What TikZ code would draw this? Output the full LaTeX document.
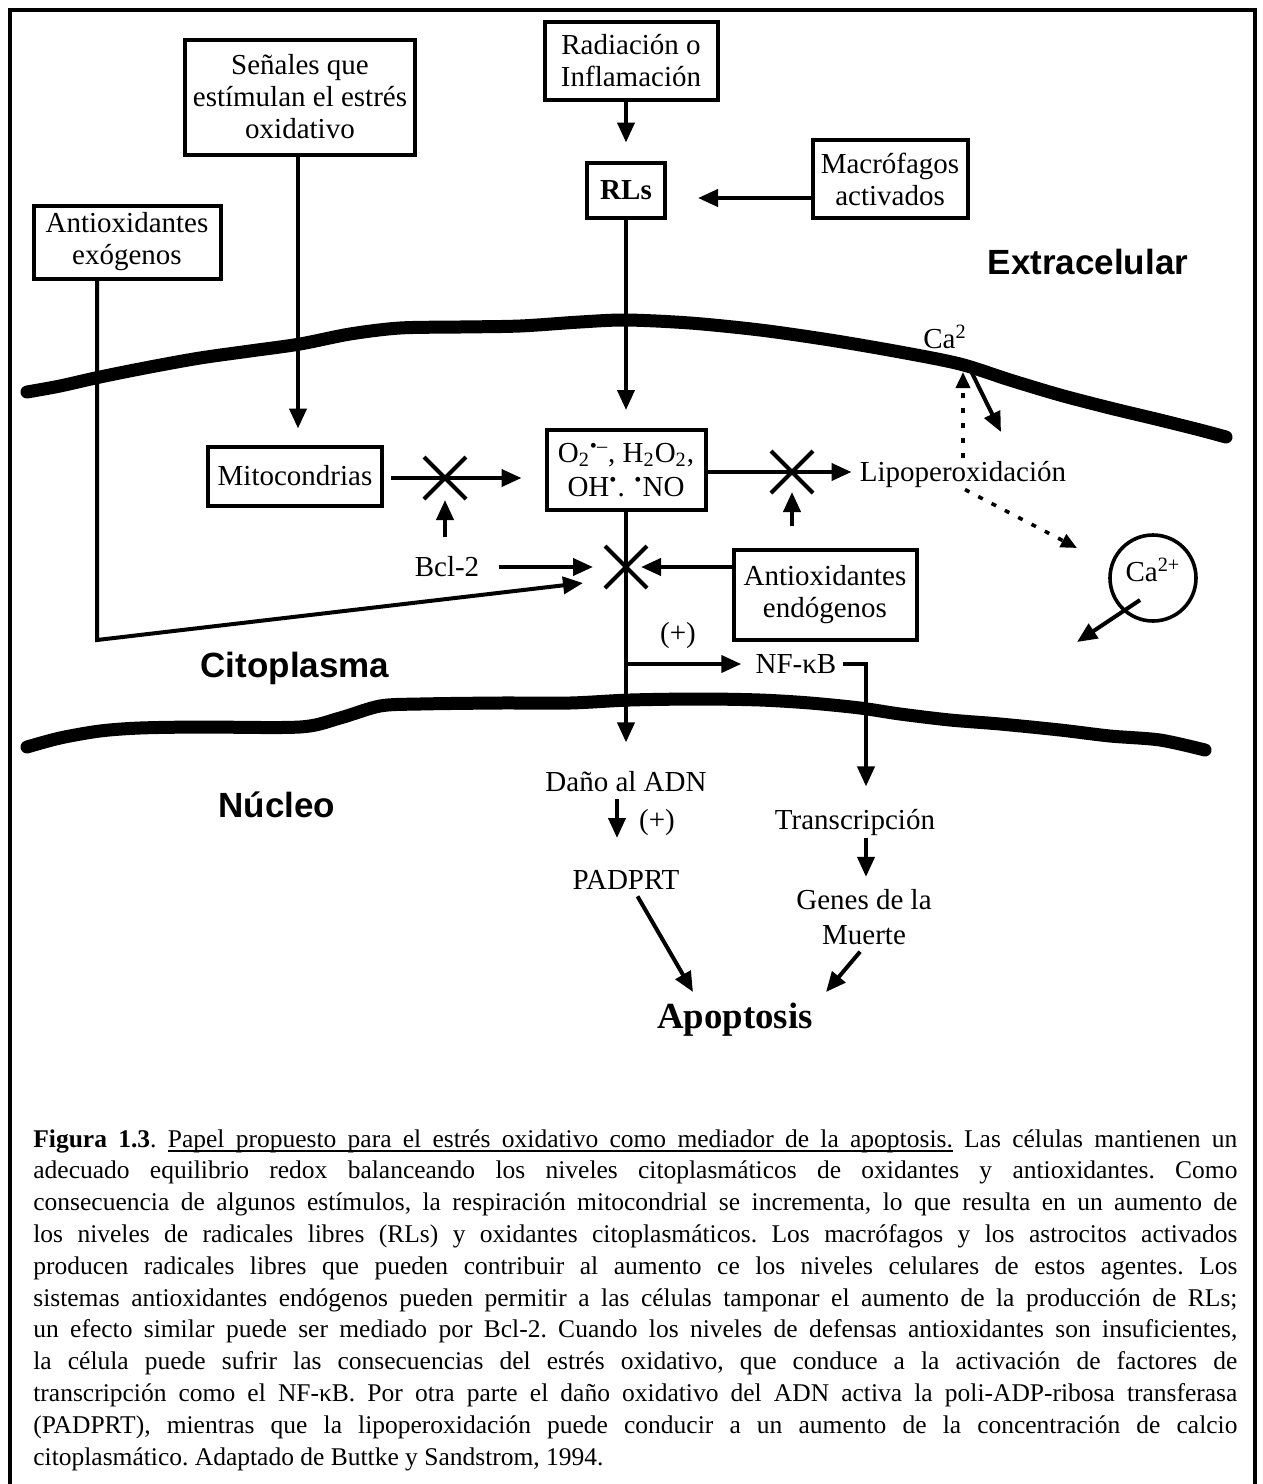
\documentclass[tikz,border=0pt]{standalone}
\usepackage{fontspec}
\setmainfont{Liberation Serif}
\setsansfont{Liberation Sans}
\usetikzlibrary{arrows.meta}
\newcommand\dfs{\fontsize{14.5pt}{16pt}\selectfont}
\newcommand\capfs{\fontsize{12.75pt}{15.9pt}\selectfont\frenchspacing}
\newcommand\myulw[1]{\setbox0\hbox{#1}\rlap{\vrule height -1.7pt depth 2.4pt width \wd0}\box0\relax}
\newcommand\myuls{\leaders\hrule height -1.7pt depth 2.4pt\hskip\fontdimen2\font plus\fontdimen3\font minus\fontdimen4\font\relax}
\begin{document}
\begin{tikzpicture}[x=0.5pt,y=-0.5pt,
  bx/.style={draw, line width=2pt, inner sep=2pt, align=center, font=\dfs},
  lbl/.style={inner sep=1pt, align=center, font=\dfs},
  region/.style={inner sep=1pt, font=\sffamily\bfseries\fontsize{17.5pt}{20pt}\selectfont},
  arr/.style={line width=2pt, -{Triangle[length=10pt,width=8.5pt]}},
  dotarr/.style={line width=1.8pt, dash pattern=on 2.5pt off 5pt, -{Triangle[length=8pt,width=7pt]}},
  memb/.style={line width=6.5pt, line cap=round, line join=round},
  xmark/.style={line width=2pt}]
\useasboundingbox (0,0) rectangle (1263,1484);
\draw[line width=2pt] (10,1484) -- (10,10) -- (1255,10) -- (1255,1484);

% membranes
\draw[memb] plot[smooth, tension=0.5] coordinates {(27,392) (60,386) (100,377) (150,367) (200,358) (250,351) (300,344) (350,334) (400,328) (460,327) (520,326) (580,322) (626,320) (690,323) (760,330) (830,340) (900,352) (960,364) (1010,380) (1060,395) (1110,408) (1160,420) (1200,430) (1226,437)};
\draw[memb] plot[smooth, tension=0.5] coordinates {(27,747) (60,738) (100,731) (140,728) (200,727) (300,727) (340,718) (380,706) (420,704) (500,703) (570,703) (630,700) (700,699) (760,700) (810,703) (860,708) (900,714) (950,720) (1000,724) (1060,730) (1110,736) (1160,740) (1205,750)};

% boxes
\node[bx, minimum width=115pt, minimum height=57.5pt] (senales) at (300,97) {Señales que\\estímulan el estrés\\oxidativo};
\node[bx, minimum width=86.5pt, minimum height=39pt] (radiacion) at (631,61) {Radiación o\\Inflamación};
\node[bx, minimum width=39pt, minimum height=27.5pt, font=\dfs\bfseries] (rls) at (626,190) {RLs};
\node[bx, minimum width=77.5pt, minimum height=39pt] (macro) at (890,179) {Macrófagos\\activados};
\node[bx, minimum width=93.5pt, minimum height=36.5pt] (antiexo) at (127,242) {Antioxidantes\\exógenos};
\node[bx, minimum width=87pt, minimum height=29.5pt] (mito) at (295,476) {Mitocondrias};
\node[bx, minimum width=79.5pt, minimum height=40pt] (o2) at (626,470) {O\textsubscript{2}\textsuperscript{\textbullet–}, H\textsubscript{2}O\textsubscript{2},\\[1pt]OH\textsuperscript{\textbullet}. \textsuperscript{\textbullet}NO};
\node[bx, minimum width=91.5pt, minimum height=45pt] (antiendo) at (825,595) {Antioxidantes\\endógenos};

% labels
\node[region] (extra) at (1088,262) {Extracelular};
\node[region] (cito) at (295,668) {Citoplasma};
\node[region] (nucleo) at (277,805) {Núcleo};
\node[lbl] (ca2) at (945,337) {Ca\textsuperscript{2}};
\node[lbl] (lipo) at (963,474) {Lipoperoxidación};
\node[lbl] (bcl) at (447,567) {Bcl-2};
\node[lbl] (plus1) at (678,636) {(+)};
\node[lbl] (nfkb) at (796,664) {NF-κB};
\node[lbl] (dano) at (626,782) {Daño al ADN};
\node[lbl] (plus2) at (657,823) {(+)};
\node[lbl] (transc) at (855,822) {Transcripción};
\node[lbl] (padprt) at (626,880) {PADPRT};
\node[lbl] (genes) at (864,917) {Genes de la\\[1.5pt]Muerte};
\node[inner sep=1pt, font=\bfseries\fontsize{18.4pt}{20pt}\selectfont] (apop) at (735,1020) {Apoptosis};
\node[circle, draw, line width=1.8pt, minimum size=43pt, inner sep=0pt] (circ) at (1153,578) {};
\node[lbl] (caion) at (1153,570) {Ca\textsuperscript{2+}};

% coordinates
\coordinate (x1) at (445,478);
\coordinate (x2) at (792,472);
\coordinate (x3) at (626,567);
\coordinate (c1) at (97,640);
\coordinate (t1) at (583,583);
\coordinate (ap1) at (693,992);
\coordinate (ap2) at (826,992);
\coordinate (dv) at (963,372);
\coordinate (dd) at (1077,548);
\coordinate (cs1) at (968,365);
\coordinate (cs2) at (1001,432);
\coordinate (cin) at (1140,600);
\coordinate (cout) at (1077,642);

% X marks
\foreach \p in {x1,x2,x3}
  \draw[xmark] (\p) ++(-21,-21) -- ++(42,42) (\p) ++(-21,21) -- ++(42,-42);

% connectors
\draw[arr, shorten >=9pt] (rls.north |- radiacion.south) -- (rls.north);
\draw[arr, shorten >=15.5pt] (macro.west |- 0,198) -- (rls.east |- 0,198);
\draw[arr, shorten >=9pt] (rls.south) -- (o2.north);
\draw[arr, shorten >=8pt] (senales.south -| 298,0) -- (mito.north -| 298,0);
\draw[arr, shorten <=3.5pt, shorten >=11.5pt] (mito.east |- x1) -- (o2.west |- x1);
\draw[arr, shorten <=8.5pt, shorten >=11pt] (bcl.north -| x1) -- (x1);
\draw[arr, shorten <=8.5pt, shorten >=16.5pt] (bcl.east) -- (x3 |- bcl.east);
\draw[arr] (antiexo.south -| c1) -- (c1) -- (t1);
\draw[arr, shorten >=7.5pt] (antiendo.west |- x3) -- (x3);
\draw[arr, shorten >=13.5pt] (o2.south) -- (dano.north);
\draw[arr, shorten >=6pt] (o2.south |- nfkb.west) -- (nfkb.west);
\draw[arr, shorten <=2pt, shorten >=10pt] (nfkb.east) -| (transc.north -| 866,0);
\draw[arr, shorten <=2pt, shorten >=15pt] (dano.south -| 617,0) -- (padprt.north -| 617,0);
\draw[arr, shorten >=5pt] (transc.south -| 866,0) -- (genes.north -| 866,0);
\draw[arr, shorten <=2.5pt] ([xshift=4.5pt]padprt.south) -- (ap1);
\draw[arr, shorten <=3pt] (genes.south) -- (ap2);
\draw[arr, shorten >=3pt] (o2.east |- x2) -- (lipo.west |- x2);
\draw[arr, shorten <=11pt, shorten >=10pt] (antiendo.north -| x2) -- (x2);
\draw[dotarr] (lipo.north -| dv) -- (dv);
\draw[dotarr] (lipo.south -| 965,0) -- (dd);
\draw[arr] (cs1) -- (cs2);
\draw[arr] (cin) -- (cout);

% caption
\node[anchor=base west, text width=602pt, inner sep=0pt, align=justify, font=\capfs] (cap) at (33,1147) {%
\textbf{Figura 1.3}. \myulw{Papel}\myuls\myulw{propuesto}\myuls\myulw{para}\myuls\myulw{el}\myuls\myulw{estrés}\myuls\myulw{oxidativo}\myuls\myulw{como}\myuls\myulw{mediador}\myuls\myulw{de}\myuls\myulw{la}\myuls\myulw{apoptosis.} Las células mantienen un\linebreak
adecuado equilibrio redox balanceando los niveles citoplasmáticos de oxidantes y antioxidantes. Como\linebreak
consecuencia de algunos estímulos, la respiración mitocondrial se incrementa, lo que resulta en un aumento de\linebreak
los niveles de radicales libres (RLs) y oxidantes citoplasmáticos. Los macrófagos y los astrocitos activados\linebreak
producen radicales libres que pueden contribuir al aumento ce los niveles celulares de estos agentes. Los\linebreak
sistemas antioxidantes endógenos pueden permitir a las células tamponar el aumento de la producción de RLs;\linebreak
un efecto similar puede ser mediado por Bcl-2. Cuando los niveles de defensas antioxidantes son insuficientes,\linebreak
la célula puede sufrir las consecuencias del estrés oxidativo, que conduce a la activación de factores de\linebreak
transcripción como el NF-κB. Por otra parte el daño oxidativo del ADN activa la poli-ADP-ribosa transferasa\linebreak
(PADPRT), mientras que la lipoperoxidación puede conducir a un aumento de la concentración de calcio\linebreak
citoplasmático. Adaptado de Buttke y Sandstrom, 1994.};
\end{tikzpicture}
\end{document}
